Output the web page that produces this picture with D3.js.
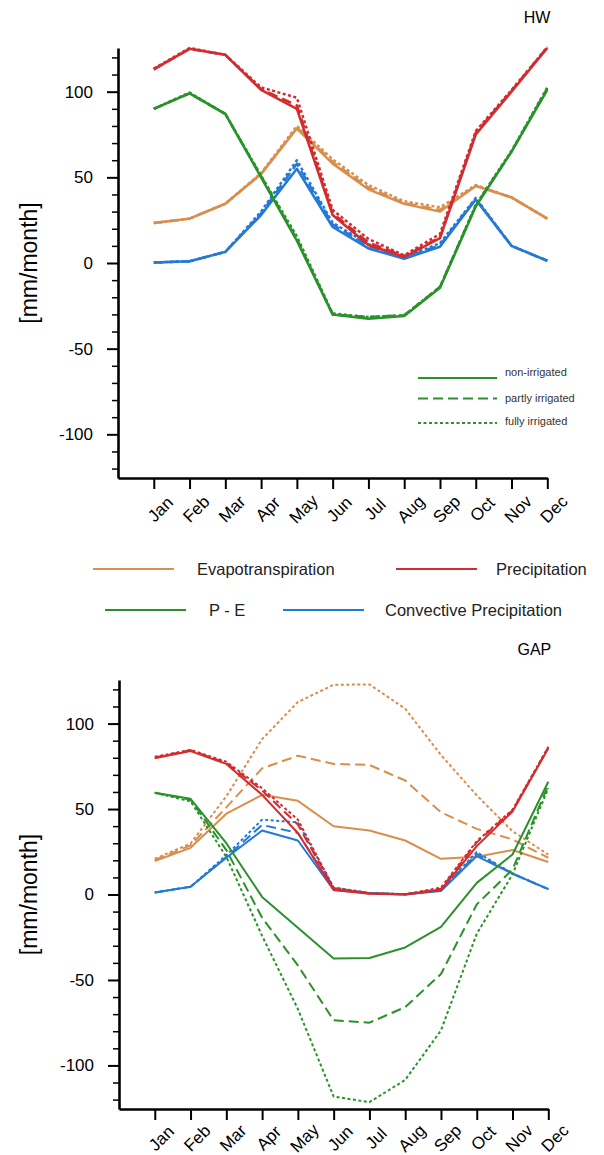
<!DOCTYPE html>
<html>
<head>
<meta charset="utf-8">
<script src="https://cdn.jsdelivr.net/npm/d3@7"></script>
<style>
  html, body { margin: 0; padding: 0; background: #fff; }
  svg { display: block; font-family: "Liberation Sans", Arial, Helvetica, sans-serif; }
</style>
</head>
<body>
<svg id="chart" width="604" height="1155"></svg>
<script>
// Month labels and x positions (1 = Jan ... 12 = Dec)
const months = ["Jan","Feb","Mar","Apr","May","Jun","Jul","Aug","Sep","Oct","Nov","Dec"];
const monthIdx = [1,2,3,4,5,6,7,8,9,10,11,12];

// Y axis ticks
const yMajorTicks = [-100, -50, 0, 50, 100];
const yMinorTicks = [-120,-110,-90,-80,-70,-60,-40,-30,-20,-10,10,20,30,40,60,70,80,90,110,120];

// Legend labels
const variableNames = ["Evapotranspiration", "Precipitation", "P - E", "Convective Precipitation"];
const scenarioNames = ["non-irrigated", "partly irrigated", "fully irrigated"];

// HW region, monthly means [mm/month]
const hwEvapNon      = [23.3, 25.9, 34.6, 52.0, 78.5, 58.0, 43.0, 34.5, 30.0, 45.0, 38.3, 25.9];
const hwEvapPartly   = [23.3, 25.9, 34.6, 52.0, 79.0, 59.0, 44.0, 35.0, 31.0, 45.0, 38.3, 25.9];
const hwEvapFully    = [23.3, 25.9, 34.6, 52.5, 80.0, 60.5, 45.5, 36.0, 32.5, 45.5, 38.3, 25.9];
const hwPrecNon      = [113.0, 125.0, 121.5, 101.0, 90.0, 28.0, 10.5, 3.5, 14.5, 75.0, 100.0, 125.5];
const hwPrecPartly   = [113.0, 125.0, 121.5, 101.5, 92.0, 29.0, 12.0, 4.0, 15.0, 76.0, 100.5, 126.0];
const hwPrecFully    = [113.5, 125.5, 121.5, 102.5, 96.5, 31.0, 14.0, 4.5, 17.0, 77.0, 101.0, 126.0];
const hwPmeNon       = [90.0, 99.0, 87.0, 50.0, 13.0, -30.0, -32.5, -31.0, -14.5, 33.0, 65.0, 101.0];
const hwPmePartly    = [90.0, 99.0, 87.0, 50.5, 14.0, -30.0, -31.5, -30.5, -14.0, 33.5, 65.0, 102.0];
const hwPmeFully     = [90.0, 99.5, 87.0, 51.0, 15.5, -29.5, -31.5, -30.5, -14.0, 34.0, 65.5, 102.5];
const hwConvNon      = [0.3, 1.0, 6.5, 28.0, 55.0, 21.0, 8.5, 2.5, 9.5, 37.0, 10.0, 1.3];
const hwConvPartly   = [0.3, 1.0, 6.5, 29.0, 58.0, 22.5, 10.0, 3.0, 10.5, 37.5, 10.0, 1.3];
const hwConvFully    = [0.3, 1.0, 6.5, 30.0, 60.0, 23.5, 11.0, 3.5, 11.5, 38.0, 10.0, 1.3];

// GAP region, monthly means [mm/month]
const gapEvapNon     = [19.6, 27.3, 47.3, 58.3, 54.8, 39.9, 37.4, 31.6, 20.9, 22.1, 26.0, 19.0];
const gapEvapPartly  = [20.2, 28.7, 51.0, 73.8, 81.2, 76.4, 75.8, 66.7, 48.1, 38.4, 32.2, 21.5];
const gapEvapFully   = [20.9, 29.8, 57.5, 90.9, 112.6, 122.7, 122.9, 108.7, 81.6, 58.0, 37.0, 23.4];
const gapPrecNon     = [79.7, 83.9, 76.4, 58.3, 36.0, 2.7, 0.4, 0.0, 2.7, 28.3, 48.6, 85.5];
const gapPrecPartly  = [80.2, 84.4, 77.0, 60.9, 40.9, 3.3, 0.6, 0.1, 3.3, 30.5, 49.2, 86.0];
const gapPrecFully   = [80.6, 84.6, 77.7, 62.2, 43.8, 4.0, 0.8, 0.2, 4.0, 31.2, 49.6, 86.4];
const gapPmeNon      = [59.5, 56.0, 30.0, -1.4, -19.4, -37.4, -37.2, -31.0, -19.0, 6.8, 23.4, 66.0];
const gapPmePartly   = [59.5, 55.5, 26.0, -13.6, -41.5, -73.6, -75.0, -65.9, -46.5, -5.8, 14.7, 64.0];
const gapPmeFully    = [59.5, 54.5, 22.0, -24.2, -67.0, -118.2, -121.5, -108.5, -79.5, -23.0, 11.8, 62.2];
const gapConvNon     = [1.2, 4.5, 21.5, 37.4, 31.6, 2.7, 0.8, 0.0, 2.1, 22.5, 12.2, 3.1];
const gapConvPartly  = [1.2, 4.5, 22.0, 40.7, 36.0, 3.3, 0.9, 0.1, 2.6, 23.8, 12.2, 3.1];
const gapConvFully   = [1.2, 4.5, 23.0, 43.8, 42.2, 4.0, 1.0, 0.2, 3.0, 24.8, 12.2, 3.1];

const colors = {
  evap: "#d98e4c",
  prec: "#d32b2e",
  pme:  "#2a922a",
  conv: "#2479d6"
};
const dashes = ["none", "10,5", "3,2.5"];

const svg = d3.select("#chart");

function drawPanel(cfg) {
  const x = d3.scaleLinear().domain([0, 12]).range([cfg.left, cfg.right]);
  const y = d3.scaleLinear().domain([-125.5, 125.5]).range([cfg.bottom, cfg.top]);
  const g = svg.append("g");

  // series: drawn in order evap, conv, prec, P-E; within each, scenarios
  const groups = [
    { key: "evap", sets: cfg.evap },
    { key: "conv", sets: cfg.conv },
    { key: "prec", sets: cfg.prec },
    { key: "pme",  sets: cfg.pme }
  ];
  const line = d3.line().x((d, i) => x(monthIdx[i])).y(d => y(d));
  groups.forEach(grp => {
    [2, 1, 0].forEach(s => {
      g.append("path")
        .datum(grp.sets[s])
        .attr("d", line)
        .attr("fill", "none")
        .attr("stroke", colors[grp.key])
        .attr("stroke-width", cfg.lineWidth)
        .attr("stroke-linejoin", "round")
        .attr("stroke-dasharray", dashes[s]);
    });
  });

  // Y axis: minor ticks
  const yMinor = g.append("g")
    .attr("transform", `translate(${cfg.left},0)`)
    .call(d3.axisLeft(y).tickValues(yMinorTicks).tickSize(6).tickSizeOuter(0).tickFormat(""));
  yMinor.select(".domain").remove();
  yMinor.selectAll("line").attr("stroke-width", 1.5);

  // Y axis: major ticks and labels (plain hyphen for negatives)
  const yMajor = g.append("g")
    .attr("transform", `translate(${cfg.left},0)`)
    .call(d3.axisLeft(y).tickValues(yMajorTicks).tickSize(11).tickSizeOuter(0).tickPadding(14)
      .tickFormat(d => String(d)));
  yMajor.select(".domain").attr("stroke-width", 2.6);
  yMajor.selectAll("line").attr("stroke-width", 2);
  yMajor.selectAll("text").attr("font-size", 17).attr("fill", "#000")
    .style("font-family", "'Liberation Sans', Arial, sans-serif");

  // X axis
  const xAx = g.append("g")
    .attr("transform", `translate(0,${cfg.bottom})`)
    .call(d3.axisBottom(x).tickValues(monthIdx).tickSize(11).tickSizeOuter(0)
      .tickFormat((d, i) => months[i]));
  xAx.select(".domain").attr("stroke-width", 2.6);
  xAx.selectAll("line").attr("stroke-width", 2);
  xAx.selectAll("text")
    .attr("y", 0).attr("dy", "0.35em")
    .attr("transform", `translate(6,${cfg.labelOffset}) rotate(-45)`)
    .style("text-anchor", "middle")
    .style("font-family", "'Liberation Sans', Arial, sans-serif")
    .attr("font-size", 17).attr("fill", "#000");

  // Y axis title
  g.append("text")
    .attr("transform", `translate(37,${(cfg.top + cfg.bottom) / 2}) rotate(-90)`)
    .attr("text-anchor", "middle")
    .attr("font-size", 23)
    .text("[mm/month]");

  // Region title
  g.append("text")
    .attr("x", cfg.right + 3)
    .attr("y", cfg.titleY)
    .attr("text-anchor", "end")
    .attr("font-size", 16)
    .text(cfg.title);
}

drawPanel({
  title: "HW", titleY: 23, labelOffset: 31,
  left: 118, right: 547.3, top: 48, bottom: 478, lineWidth: 2.5,
  evap: [hwEvapNon, hwEvapPartly, hwEvapFully],
  prec: [hwPrecNon, hwPrecPartly, hwPrecFully],
  pme:  [hwPmeNon, hwPmePartly, hwPmeFully],
  conv: [hwConvNon, hwConvPartly, hwConvFully]
});

drawPanel({
  title: "GAP", titleY: 655, labelOffset: 29,
  left: 119, right: 548.3, top: 680, bottom: 1109, lineWidth: 2,
  evap: [gapEvapNon, gapEvapPartly, gapEvapFully],
  prec: [gapPrecNon, gapPrecPartly, gapPrecFully],
  pme:  [gapPmeNon, gapPmePartly, gapPmeFully],
  conv: [gapConvNon, gapConvPartly, gapConvFully]
});

// Scenario legend inside the HW panel
const scen = svg.append("g");
const scenRows = [{ ly: 378, ty: 372 }, { ly: 398.5, ty: 398 }, { ly: 423, ty: 421.5 }];
scenarioNames.forEach((name, i) => {
  scen.append("line")
    .attr("x1", 418).attr("x2", 497)
    .attr("y1", scenRows[i].ly).attr("y2", scenRows[i].ly)
    .attr("stroke", colors.pme).attr("stroke-width", 2)
    .attr("stroke-dasharray", dashes[i]);
  scen.append("text")
    .attr("x", 505).attr("y", scenRows[i].ty)
    .attr("dy", "0.35em")
    .attr("font-size", 11).attr("fill", "#333")
    .text(name);
});

// Variable legend between the panels
const legendItems = [
  { key: "evap", name: variableNames[0], x1: 93,  x2: 174, tx: 197, y: 569 },
  { key: "prec", name: variableNames[1], x1: 396, x2: 477, tx: 496, y: 569 },
  { key: "pme",  name: variableNames[2], x1: 105, x2: 186, tx: 209, y: 610 },
  { key: "conv", name: variableNames[3], x1: 283, x2: 364, tx: 385, y: 610 }
];
const leg = svg.append("g");
legendItems.forEach(it => {
  leg.append("line")
    .attr("x1", it.x1).attr("x2", it.x2).attr("y1", it.y).attr("y2", it.y)
    .attr("stroke", colors[it.key]).attr("stroke-width", 2);
  leg.append("text")
    .attr("x", it.tx).attr("y", it.y).attr("dy", "0.35em")
    .attr("font-size", 16.5).attr("fill", "#222")
    .text(it.name);
});
</script>
</body>
</html>
